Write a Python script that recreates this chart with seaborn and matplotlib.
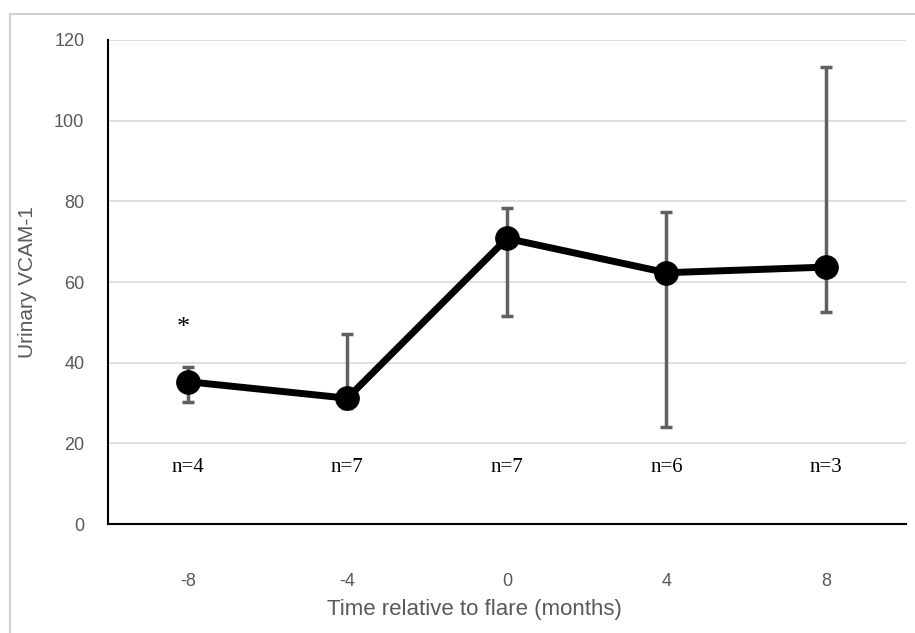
import numpy as np
import matplotlib
matplotlib.use('Agg')
import matplotlib.pyplot as plt
import seaborn as sns
import pandas as pd
from matplotlib.patches import Rectangle

# --- data ---
months = [-8, -4, 0, 4, 8]
vcam_mean = [35.3, 31.2, 70.8, 62.3, 63.7]
err_low = [30.2, 28.8, 51.6, 24.0, 52.6]
err_high = [38.9, 47.1, 78.4, 77.4, 113.3]
n_labels = ['n=4', 'n=7', 'n=7', 'n=6', 'n=3']
star_month = -8

df = pd.DataFrame({'month': months, 'vcam': vcam_mean})

sns.set_style('white')
plt.rcParams['font.family'] = ['Liberation Sans', 'DejaVu Sans']

fig = plt.figure(figsize=(9.15, 6.33), dpi=100)
ax = fig.add_axes([0.118, 0.172, 0.872, 0.765])

# outer chart frame (Excel style)
fig.patches.append(Rectangle((10 / 915, -0.1), 1.2, (633 - 14) / 633 + 0.1,
                             transform=fig.transFigure, fill=False,
                             edgecolor='#d0d0d0', linewidth=1.5))

lo = np.array(vcam_mean) - np.array(err_low)
hi = np.array(err_high) - np.array(vcam_mean)
ax.errorbar(months, vcam_mean, yerr=[lo, hi], fmt='none', ecolor='#606060',
            elinewidth=2.5, capsize=4.5, capthick=2.5, zorder=2)

sns.lineplot(data=df, x='month', y='vcam', ax=ax, color='black', linewidth=5,
             marker='o', markersize=17, markeredgecolor='black', zorder=3)

for m, lab in zip(months, n_labels):
    ax.text(m, 14, lab, ha='center', va='center', fontsize=15,
            family=['Liberation Serif'], color='black')
ax.text(star_month - 0.1, 48.5, '*', ha='center', va='center', fontsize=19,
        family=['Liberation Serif'], color='black')

ax.set_xlim(-10, 10)
ax.set_ylim(0, 120)
ax.set_xticks(months)
ax.set_xticklabels([str(m) for m in months])
ax.set_yticks(np.arange(0, 121, 20))
ax.yaxis.grid(True, color='#d9d9d9', linewidth=1.2)
ax.set_axisbelow(True)
ax.tick_params(axis='both', length=0, labelsize=13, colors='#595959')
ax.tick_params(axis='y', pad=17)
ax.tick_params(axis='x', pad=35)
for s in ['top', 'right']:
    ax.spines[s].set_visible(False)
for s in ['left', 'bottom']:
    ax.spines[s].set_color('black')
    ax.spines[s].set_linewidth(1.5)

ax.set_xlabel('Time relative to flare (months)', fontsize=16, color='#595959')
ax.xaxis.set_label_coords(0.459, -0.155)
ax.set_ylabel('Urinary VCAM-1', fontsize=15, color='#595959', labelpad=12)

fig.savefig('out.png', dpi=100)
